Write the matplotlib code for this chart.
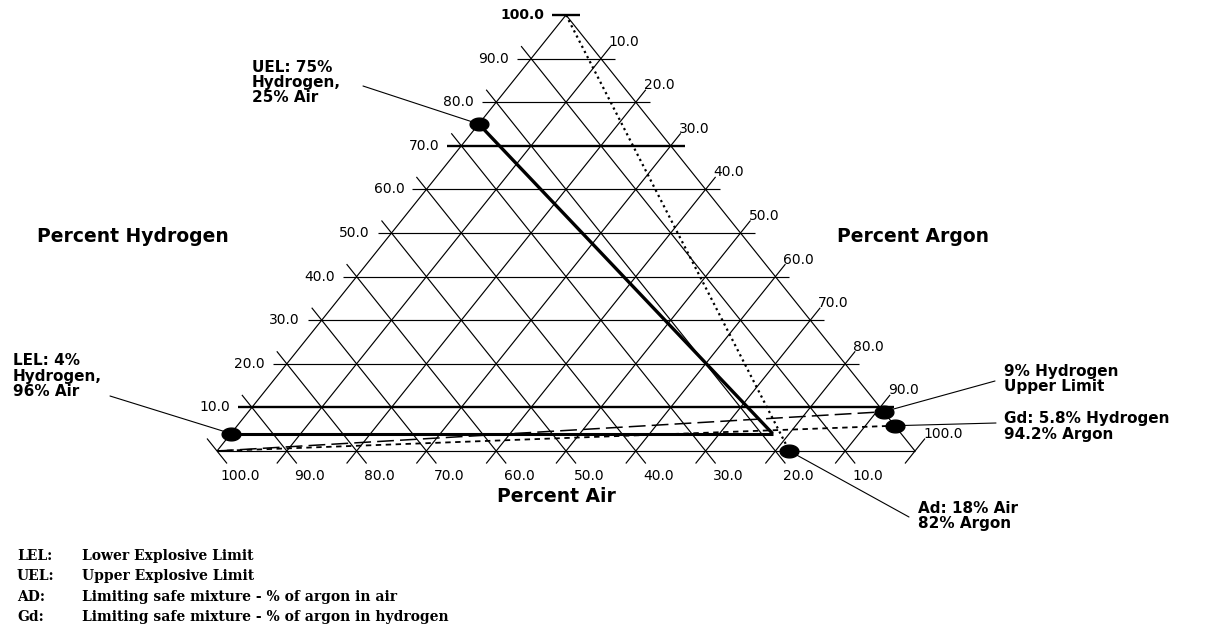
import numpy as np
import matplotlib
matplotlib.use("Agg")
import matplotlib.pyplot as plt
from matplotlib.path import Path

# ---------------- data ----------------
grid_values = [0, 10, 20, 30, 40, 50, 60, 70, 80, 90, 100]
thick_h_values = [10, 70, 100]
hydrogen_labels = ["10.0", "20.0", "30.0", "40.0", "50.0", "60.0", "70.0", "80.0", "90.0", "100.0"]
argon_labels = ["10.0", "20.0", "30.0", "40.0", "50.0", "60.0", "70.0", "80.0", "90.0", "100.0"]
air_labels = ["10.0", "20.0", "30.0", "40.0", "50.0", "60.0", "70.0", "80.0", "90.0", "100.0"]
label_values = [10, 20, 30, 40, 50, 60, 70, 80, 90, 100]

# points as (hydrogen %, air %, argon %)
uel = (75.0, 25.0, 0.0)
lel = (4.0, 96.0, 0.0)
ad_point = (0.0, 18.0, 82.0)
gd_point = (5.8, 0.0, 94.2)
h9_limit = (9.0, 0.0, 91.0)
lel_uel_corner = (4.0, 18.4, 77.6)
hydrogen_vertex = (100.0, 0.0, 0.0)
air_vertex = (0.0, 100.0, 0.0)

# ---------------- layout ----------------
FW, FH = 1209, 628
W, HT = 698.0, 436.0          # triangle base width / height in pixels
LEFT_PX, BASE_PX = 217.0, 451.0

fig = plt.figure(figsize=(FW / 100, FH / 100), dpi=100)
ax = fig.add_axes([LEFT_PX / FW, (FH - BASE_PX) / FH, W / FW, HT / FH])
ax.set_xlim(0, W)
ax.set_ylim(0, HT)
ax.axis("off")


def tern(h, air, ar):
    x = W * (ar + h / 2.0) / 100.0
    y = HT * h / 100.0
    return np.array([x, y])


def fpt(px, py):
    return (px / FW, 1 - py / FH)


def seg(a, b, ext_a, ext_b, lw, **kw):
    d = b - a
    n = np.hypot(*d)
    d = d / n
    p0 = a - d * ext_a
    p1 = b + d * ext_b
    ax.plot([p0[0], p1[0]], [p0[1], p1[1]], color="black", lw=lw,
            solid_capstyle="butt", clip_on=False, **kw)


def tick(c, d, ext, lw):
    d = np.array(d, float)
    d = d / np.hypot(*d)
    ax.plot([c[0] - d[0] * ext, c[0] + d[0] * ext], [c[1] - d[1] * ext, c[1] + d[1] * ext],
            color="black", lw=lw, solid_capstyle="butt", clip_on=False)


EXT_H = 14
EXT_S = 16
GLW = 0.85
for v in grid_values:
    # horizontal: constant hydrogen
    lw = 1.7 if v in thick_h_values else GLW
    if v == 100:
        tick(tern(100, 0, 0), (1, 0), EXT_H, lw)
    else:
        a = tern(v, 100 - v, 0)
        b = tern(v, 0, 100 - v)
        e = 0 if v == 0 else EXT_H
        seg(a, b, e, e, lw)
    # constant argon ( / )
    if v == 100:
        tick(tern(0, 0, 100), (W / 2, HT), EXT_S, GLW)
    else:
        a = tern(0, 100 - v, v)
        b = tern(100 - v, 0, v)
        e = 0 if v == 0 else EXT_S
        seg(a, b, e, e, GLW)
    # constant air ( \ )
    if v == 100:
        tick(tern(0, 100, 0), (-W / 2, HT), EXT_S, GLW)
    else:
        a = tern(0, v, 100 - v)
        b = tern(100 - v, v, 0)
        e = 0 if v == 0 else EXT_S
        seg(a, b, e, e, GLW)

# tick labels
for v, s in zip(label_values, hydrogen_labels):
    p = tern(v, 100 - v, 0)
    ax.annotate(s, xy=p, xytext=(-22, 0), textcoords="offset pixels",
                ha="right", va="center", fontsize=10,
                fontweight="bold" if v == 100 else "normal", annotation_clip=False)
for v, s in zip(label_values, argon_labels):
    p = tern(100 - v, 0, v)
    ax.annotate(s, xy=p, xytext=(8, 17), textcoords="offset pixels",
                ha="left", va="center", fontsize=10, annotation_clip=False)
for v, s in zip(label_values, air_labels):
    p = tern(0, v, 100 - v)
    ax.annotate(s, xy=p, xytext=(23, -25), textcoords="offset pixels",
                ha="center", va="center", fontsize=10, annotation_clip=False)

# data lines
def line_between(p, q, **kw):
    a = tern(*p)
    b = tern(*q)
    ax.plot([a[0], b[0]], [a[1], b[1]], color="black", clip_on=False, **kw)

line_between(hydrogen_vertex, ad_point, lw=1.6, linestyle=(0, (1, 1.6)))
line_between(air_vertex, gd_point, lw=1.3, linestyle=(0, (3, 2.5)))
line_between(air_vertex, h9_limit, lw=1.1, linestyle=(0, (11, 4)))
line_between(lel, lel_uel_corner, lw=2.2, solid_capstyle="butt")
line_between(lel_uel_corner, uel, lw=2.4, solid_capstyle="butt")

# ellipse markers
th = np.linspace(0, 2 * np.pi, 60)
ell = Path(np.c_[np.cos(th), 0.68 * np.sin(th)], closed=True)
for pt in [uel, lel, ad_point, gd_point, h9_limit]:
    p = tern(*pt)
    ax.plot([p[0]], [p[1]], marker=ell, ms=13.5, color="black", clip_on=False, zorder=5)

# annotation labels with leader lines
ann_kw = dict(fontsize=11, fontweight="bold", ha="left", va="center", linespacing=1.02)
fig.text(*fpt(252, 82.5), "UEL: 75%\nHydrogen,\n25% Air", **ann_kw)
fig.text(*fpt(13, 376), "LEL: 4%\nHydrogen,\n96% Air", **ann_kw)
fig.text(*fpt(1004, 379), "9% Hydrogen\nUpper Limit", **ann_kw)
fig.text(*fpt(1004, 426.5), "Gd: 5.8% Hydrogen\n94.2% Argon", **ann_kw)
fig.text(*fpt(918, 516), "Ad: 18% Air\n82% Argon", **ann_kw)

leaders = [(uel, (363, 86)), (lel, (110, 396)), (h9_limit, (995, 381)),
           (gd_point, (996, 423)), (ad_point, (909, 517))]
for pt, start in leaders:
    ax.annotate("", xy=tern(*pt), xytext=fpt(*start), textcoords="figure fraction",
                arrowprops=dict(arrowstyle="-", lw=0.8, color="black", shrinkA=0, shrinkB=0),
                annotation_clip=False)

# axis titles
fig.text(*fpt(37, 237), "Percent Hydrogen", fontsize=13.5, fontweight="bold", ha="left", va="center")
fig.text(*fpt(837, 237), "Percent Argon", fontsize=13.5, fontweight="bold", ha="left", va="center")
fig.text(*fpt(556, 497), "Percent Air", fontsize=13.5, fontweight="bold", ha="center", va="center")

# glossary
gloss_keys = ["LEL:", "UEL:", "AD:", "Gd:"]
gloss_text = ["Lower Explosive Limit", "Upper Explosive Limit",
              "Limiting safe mixture - % of argon in air",
              "Limiting safe mixture - % of argon in hydrogen"]
gloss_y = [556, 576, 597, 617]
for k, t, y in zip(gloss_keys, gloss_text, gloss_y):
    fig.text(*fpt(17, y), k, fontsize=10, fontweight="bold", family="DejaVu Serif", ha="left", va="center")
    fig.text(*fpt(82, y), t, fontsize=10, fontweight="bold", family="DejaVu Serif", ha="left", va="center")

fig.savefig("out.png", dpi=100)
